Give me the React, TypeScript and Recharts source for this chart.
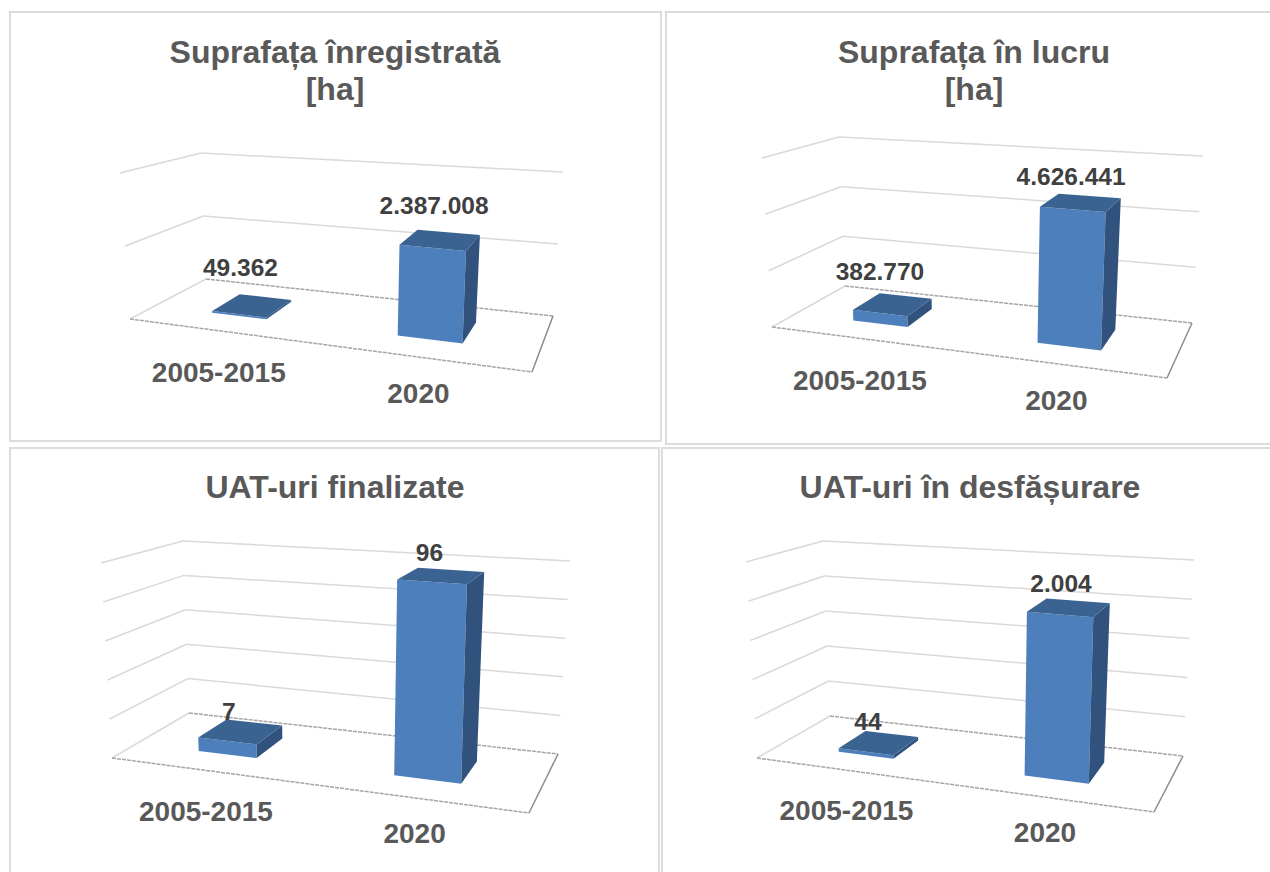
import React from "react";
import { BarChart, Bar, XAxis, YAxis, CartesianGrid, LabelList } from "recharts";

const categories = ["2005-2015", "2020"];
const inregistrata = [49362, 2387008];
const inLucru = [382770, 4626441];
const finalizate = [7, 96];
const desfasurare = [44, 2004];
const ticksHa1 = [0, 2000000, 4000000];
const ticksHa2 = [0, 2000000, 4000000, 6000000];
const ticksFin = [0, 20, 40, 60, 80, 100];
const ticksDes = [0, 500, 1000, 1500, 2000, 2500];

type Pt = [number, number];
const FONT = "'Liberation Sans', Arial, sans-serif";
const M = { top: 110, bottom: 40, left: 40, right: 40 };
const XH = 30;

function homography(q: Pt[]) {
  const [[x0, y0], [x1, y1], [x2, y2], [x3, y3]] = q;
  const dx1 = x1 - x2, dx2 = x3 - x2, sx = x0 - x1 + x2 - x3;
  const dy1 = y1 - y2, dy2 = y3 - y2, sy = y0 - y1 + y2 - y3;
  const den = dx1 * dy2 - dx2 * dy1;
  const g = (sx * dy2 - dx2 * sy) / den;
  const h = (dx1 * sy - sx * dy1) / den;
  const a = x1 - x0 + g * x1, b = x3 - x0 + h * x3;
  const d = y1 - y0 + g * y1, e = y3 - y0 + h * y3;
  return (u: number, v: number): Pt => {
    const w = g * u + h * v + 1;
    return [(a * u + b * v + x0) / w, (d * u + e * v + y0) / w];
  };
}

const poly = (pts: Pt[]) => pts.map((p) => p[0].toFixed(1) + "," + p[1].toFixed(1)).join(" ");

type Cfg = {
  box: { x: number; y: number; w: number; h: number };
  title: string[];
  titleX: number;
  titleY: number;
  values: number[];
  ticks: number[];
  floor: Pt[];
  top: Pt[];
  labelOff: Pt[];
  tickOff: Pt[];
};

const panels: Cfg[] = [
  {
    box: { x: 9, y: 11, w: 653, h: 431 },
    title: ["Suprafața înregistrată", "[ha]"], titleX: 335, titleY: 63,
    values: inregistrata, ticks: ticksHa1,
    floor: [[130, 319], [532, 372], [553, 316], [206, 279]],
    top: [[120, 173], [540, 208], [563, 172], [201, 153]],
    labelOff: [[-12, -36], [-6.5, -32]], tickOff: [[2, 44], [2, 39]],
  },
  {
    box: { x: 665, y: 11, w: 620, h: 434 },
    title: ["Suprafața în lucru", "[ha]"], titleX: 974, titleY: 63,
    values: inLucru, ticks: ticksHa2,
    floor: [[772, 327], [1167, 378], [1192, 323], [845, 286]],
    top: [[762, 158], [1175, 188], [1203, 156], [839, 137]],
    labelOff: [[-13, -31], [-10, -24]], tickOff: [[1, 44], [1, 39]],
  },
  {
    box: { x: 9, y: 447, w: 651, h: 440 },
    title: ["UAT-uri finalizate"], titleX: 335, titleY: 498,
    values: finalizate, ticks: ticksFin,
    floor: [[112, 758], [529, 813], [558, 754], [189, 713]],
    top: [[101, 563], [537, 593], [570, 561], [183, 541]],
    labelOff: [[-12, -18], [-12, -21]], tickOff: [[1, 43], [2, 38]],
  },
  {
    box: { x: 661, y: 447, w: 620, h: 440 },
    title: ["UAT-uri în desfășurare"], titleX: 970, titleY: 498,
    values: desfasurare, ticks: ticksDes,
    floor: [[757, 758], [1154, 812], [1183, 756], [830, 716]],
    top: [[746, 562], [1162, 594], [1194, 560], [823, 541]],
    labelOff: [[-11, -19], [-8, -22]], tickOff: [[2, 43], [3, 38]],
  },
];

const dotted = (v: number) => String(v).replace(/\B(?=(\d{3})+(?!\d))/g, ".");

function Panel({ cfg }: { cfg: Cfg }) {
  const { box } = cfg;
  const loc = (q: Pt[]) => q.map((p) => [p[0] - box.x, p[1] - box.y] as Pt);
  const floor = loc(cfg.floor);
  const top = loc(cfg.top);
  const hf = homography(floor);
  const rise = floor.map((p, i) => [top[i][0] - p[0], top[i][1] - p[1]] as Pt);
  const P = (u: number, v: number, t: number): Pt => {
    const a = hf(u, v);
    const mix = (k: 0 | 1) =>
      (1 - v) * ((1 - u) * rise[0][k] + u * rise[1][k]) + v * ((1 - u) * rise[3][k] + u * rise[2][k]);
    return [a[0] + mix(0) * t, a[1] + mix(1) * t];
  };
  const plotW = box.w - M.left - M.right;
  const plotH = box.h - M.top - M.bottom - XH;
  const plotBottom = M.top + plotH;
  const toU = (x: number) => (x - M.left) / plotW;
  const toT = (y: number) => (plotBottom - y) / plotH;
  const D0 = 0.3, D1 = 0.7;
  const data = categories.map((name, i) => ({ name, value: cfg.values[i] }));

  const gridLine = (p: any) => {
    const t = toT(p.y1);
    const isFloor = Math.abs(t) < 0.001;
    return (
      <g key={p.key ?? p.index}>
        <polyline points={poly([P(0, 0, t), P(0, 1, t)])} fill="none" stroke="#d9d9d9" strokeWidth={1.5} />
        <polyline
          points={poly([P(0, 1, t), P(1, 1, t)])}
          fill="none"
          stroke={isFloor ? "#a6a6a6" : "#d9d9d9"}
          strokeWidth={1.5}
          strokeDasharray={isFloor ? "4 1" : undefined}
        />
        {isFloor && (
          <>
            <polyline points={poly([P(0, 0, 0), P(1, 0, 0)])} fill="none" stroke="#a6a6a6" strokeWidth={1.5} strokeDasharray="4 1" />
            <polyline points={poly([P(1, 0, 0), P(1, 1, 0)])} fill="none" stroke="#8c8c8c" strokeWidth={1.5} />
          </>
        )}
      </g>
    );
  };

  const barShape = (p: any) => {
    const u0 = toU(p.x), u1 = toU(p.x + p.width);
    const t = p.height / plotH;
    const fbl = P(u0, D0, 0), fbr = P(u1, D0, 0), ftl = P(u0, D0, t), ftr = P(u1, D0, t);
    const bbr = P(u1, D1, 0), btr = P(u1, D1, t), btl = P(u0, D1, t);
    return (
      <g>
        <polygon points={poly([fbl, fbr, ftr, ftl])} fill="#4c7fbc" />
        <polygon points={poly([fbr, bbr, btr, ftr])} fill="#30527c" />
        <polygon points={poly([ftl, ftr, btr, btl])} fill="#3b6391" />
      </g>
    );
  };

  const valueLabel = (p: any) => {
    const u = toU(p.x + p.width / 2);
    const t = p.height / plotH;
    const c = P(u, 0.5, t);
    const off = cfg.labelOff[p.index];
    return (
      <text x={c[0] + off[0]} y={c[1] + off[1]} textAnchor="middle" dominantBaseline="middle"
        fontFamily={FONT} fontWeight={700} fontSize={24.5} fill="#404040">
        {dotted(p.value)}
      </text>
    );
  };

  const catTick = (p: any) => {
    const u = toU(p.x);
    const c = P(u, 0, 0);
    const off = cfg.tickOff[p.index];
    return (
      <text x={c[0] + off[0]} y={c[1] + off[1]} textAnchor="middle" dominantBaseline="middle"
        fontFamily={FONT} fontWeight={700} fontSize={28} fill="#595959">
        {p.payload.value}
      </text>
    );
  };

  return (
    <div style={{ position: "absolute", left: box.x, top: box.y, width: box.w, height: box.h }}>
      <div style={{ position: "absolute", inset: 0, boxSizing: "border-box", border: "2.5px solid #dcdcdc" }} />
      <div style={{ position: "absolute", left: 0, top: 0 }}>
        <BarChart width={box.w} height={box.h} data={data} margin={M} barCategoryGap="34.5%" style={{ overflow: "visible" }}>
          <CartesianGrid horizontal={gridLine} vertical={false} />
          <XAxis dataKey="name" axisLine={false} tickLine={false} height={XH} tick={catTick} interval={0} />
          <YAxis hide domain={[0, cfg.ticks[cfg.ticks.length - 1]]} ticks={cfg.ticks} />
          <Bar dataKey="value" isAnimationActive={false} shape={barShape}>
            <LabelList dataKey="value" content={valueLabel} />
          </Bar>
          {cfg.title.map((line, i) => (
            <text key={i} x={cfg.titleX - box.x} y={cfg.titleY - box.y + i * 37} textAnchor="middle"
              fontFamily={FONT} fontWeight={700} fontSize={32} fill="#595959">
              {line}
            </text>
          ))}
        </BarChart>
      </div>
    </div>
  );
}

export default function App() {
  return (
    <div style={{ position: "absolute", left: 0, top: 0, width: 1270, height: 872, overflow: "hidden", background: "#fff" }}>
      {panels.map((c, i) => (
        <Panel key={i} cfg={c} />
      ))}
    </div>
  );
}
